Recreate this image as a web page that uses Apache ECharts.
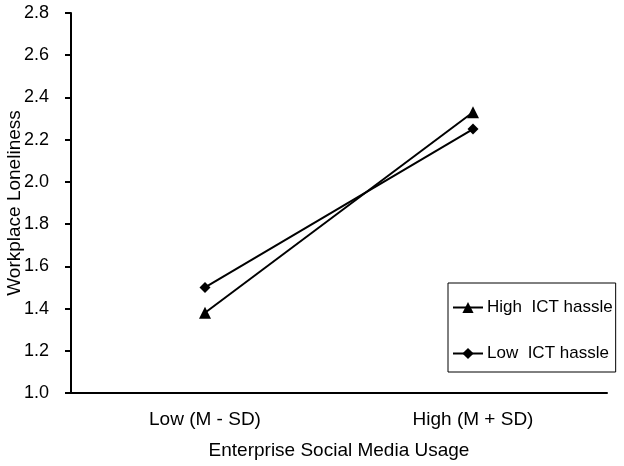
<!DOCTYPE html>
<html>
<head>
<meta charset="utf-8">
<script src="https://cdn.jsdelivr.net/npm/echarts@6/dist/echarts.min.js"></script>
<style>
html, body { margin: 0; padding: 0; background: #fff; }
#chart { width: 624px; height: 466px; }
</style>
</head>
<body>
<div id="chart"></div>
<script>
var categories = ['Low (M - SD)', 'High (M + SD)'];
var highHassle = [1.38, 2.33];
var lowHassle = [1.50, 2.25];
var seriesNames = ['High  ICT hassle', 'Low  ICT hassle'];

var chart = echarts.init(document.getElementById('chart'));
var font = 'Liberation Sans, Arial, sans-serif';
var option = {
    animation: false,
    textStyle: { fontFamily: font, color: '#000' },
    grid: { left: 71, right: 17, top: 13, bottom: 73, containLabel: false, outerBoundsMode: 'none' },
    legend: {
        orient: 'vertical',
        left: 448,
        top: 283,
        padding: [16, 3, 10, 4],
        itemGap: 29,
        itemWidth: 30,
        itemHeight: 14,
        borderColor: '#000',
        borderWidth: 1,
        textStyle: { fontFamily: font, fontSize: 17, color: '#000', padding: [0, 0, 0, -1] },
        data: seriesNames
    },
    xAxis: {
        type: 'category',
        data: categories,
        name: 'Enterprise Social Media Usage',
        nameLocation: 'middle',
        nameGap: 48,
        nameMoveOverlap: false,
        nameTextStyle: { fontSize: 19, color: '#000' },
        axisLine: { lineStyle: { color: '#000', width: 2 } },
        axisTick: { length: 6, lineStyle: { color: '#000', width: 2 } },
        axisLabel: { fontSize: 19, color: '#000', margin: 17 }
    },
    yAxis: {
        type: 'value',
        min: 1.0,
        max: 2.8,
        interval: 0.2,
        name: 'Workplace Loneliness',
        nameLocation: 'middle',
        nameGap: 47,
        nameMoveOverlap: false,
        nameTextStyle: { fontSize: 19, color: '#000' },
        axisLine: { show: true, lineStyle: { color: '#000', width: 2 } },
        axisTick: { show: true, length: 6, lineStyle: { color: '#000', width: 2 } },
        splitLine: { show: false },
        axisLabel: {
            fontSize: 18,
            color: '#000',
            margin: 22,
            formatter: function (v) { return v.toFixed(1); }
        }
    },
    series: [
        {
            name: seriesNames[0],
            type: 'line',
            data: highHassle,
            symbol: 'triangle',
            symbolSize: 12,
            lineStyle: { color: '#000', width: 2 },
            itemStyle: { color: '#000' }
        },
        {
            name: seriesNames[1],
            type: 'line',
            data: lowHassle,
            symbol: 'diamond',
            symbolSize: 11,
            lineStyle: { color: '#000', width: 2 },
            itemStyle: { color: '#000' }
        }
    ]
};
chart.setOption(option);
window.onresize = chart.resize;
</script>
</body>
</html>
